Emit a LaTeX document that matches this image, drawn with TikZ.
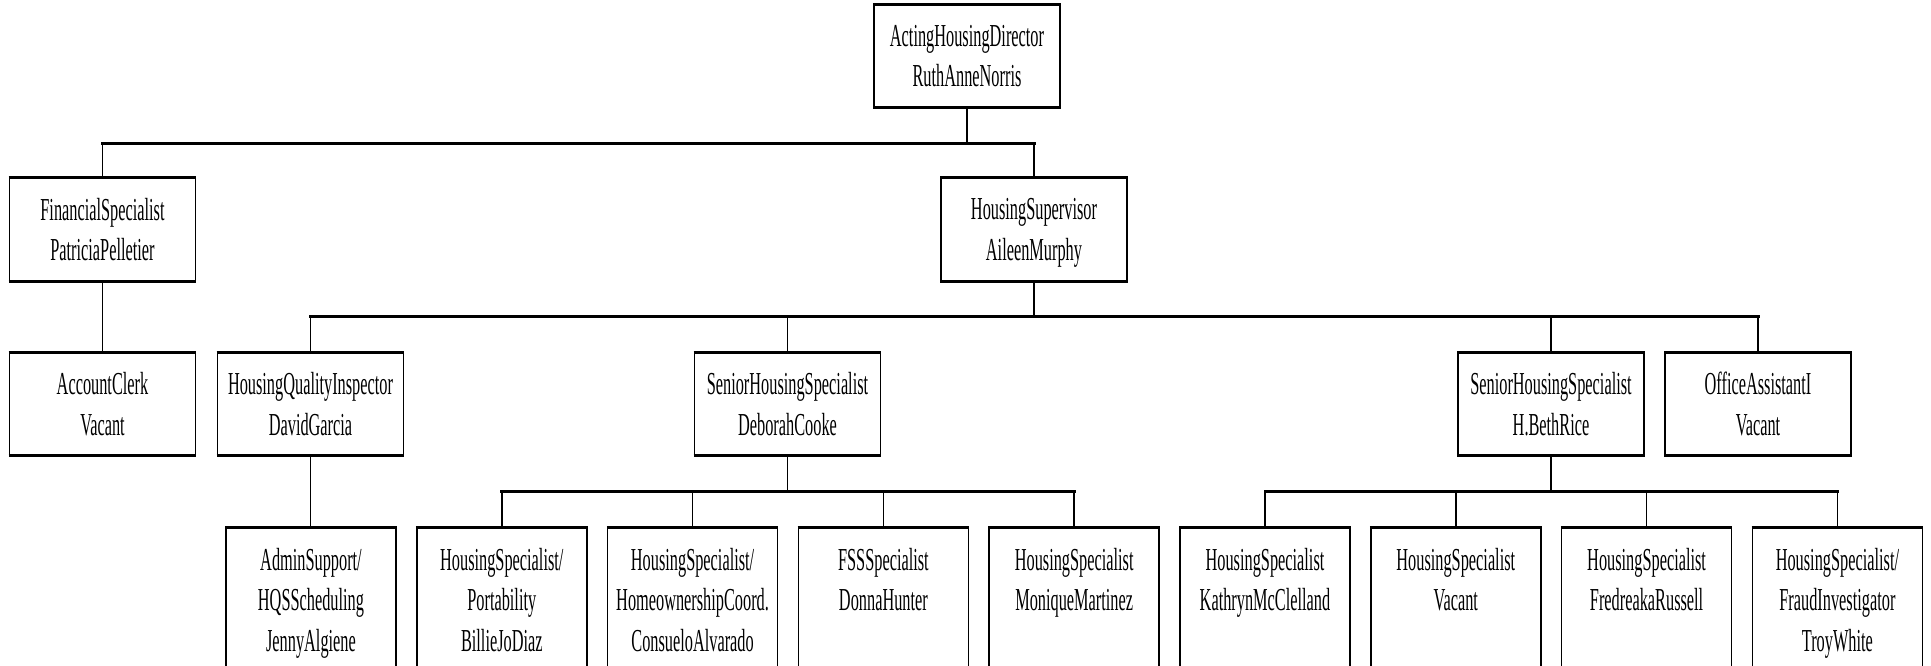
\documentclass[tikz,border=0pt]{standalone}
\usepackage{fontspec}
\setmainfont{Liberation Serif}[FakeStretch=0.51]
\begin{document}
\begin{tikzpicture}[x=1pt,y=-1pt,
  txt/.style={font=\fontsize{32}{40.5}\selectfont, align=center, inner sep=0pt},
  box/.style={draw, line width=1.7pt, minimum width=186pt, minimum height=102pt, inner sep=0pt, txt},
  lowbox/.style={draw, line width=1.7pt, minimum width=170pt, minimum height=145pt, inner sep=0pt, anchor=north},
  lowtxt/.style={txt, anchor=north, yshift=-21pt},
  edge/.style={line width=2.8pt},
  vline/.style={line width=1.6pt},
  hline/.style={line width=3pt, line cap=rect}]
\useasboundingbox (0,0) rectangle (1931,666);
\clip (0,0) rectangle (1931,666);
\fill[white] (0,0) rectangle (1931,666);

% level 1
\node[box] (top) at (967,56) {ActingHousingDirector\\RuthAnneNorris};
% level 2
\node[box] (fin) at (102.5,229.5) {FinancialSpecialist\\PatriciaPelletier};
\node[box] (hs) at (1034,229.5) {HousingSupervisor\\\raisebox{0pt}[\height][0pt]{AileenMurphy}};
% level 3
\node[box] (ac) at (102.5,404) {AccountClerk\\Vacant};
\node[box] (hqi) at (310.5,404) {HousingQualityInspector\\DavidGarcia};
\node[box] (dc) at (787.5,404) {SeniorHousingSpecialist\\DeborahCooke};
\node[box] (hbr) at (1551,404) {SeniorHousingSpecialist\\H.BethRice};
\node[box] (oa) at (1758,404) {OfficeAssistantI\\Vacant};
% level 4
\node[lowbox] (b0) at (311,527) {};
\node[lowbox] (b1) at (501.8,527) {};
\node[lowbox] (b2) at (692.6,527) {};
\node[lowbox] (b3) at (883.4,527) {};
\node[lowbox] (b4) at (1074.2,527) {};
\node[lowbox] (b5) at (1265,527) {};
\node[lowbox] (b6) at (1455.8,527) {};
\node[lowbox] (b7) at (1646.6,527) {};
\node[lowbox] (b8) at (1837.4,527) {};
\node[lowtxt] (t0) at (b0.north) {AdminSupport/\\HQSScheduling\\JennyAlgiene};
\node[lowtxt] (t1) at (b1.north) {HousingSpecialist/\\Portability\\BillieJoDiaz};
\node[lowtxt] (t2) at (b2.north) {HousingSpecialist/\\HomeownershipCoord.\\ConsueloAlvarado};
\node[lowtxt] (t3) at (b3.north) {FSSSpecialist\\DonnaHunter};
\node[lowtxt] (t4) at (b4.north) {HousingSpecialist\\MoniqueMartinez};
\node[lowtxt] (t5) at (b5.north) {HousingSpecialist\\KathrynMcClelland};
\node[lowtxt] (t6) at (b6.north) {HousingSpecialist\\Vacant};
\node[lowtxt] (t7) at (b7.north) {HousingSpecialist\\FredreakaRussell};
\node[lowtxt] (t8) at (b8.north) {HousingSpecialist/\\FraudInvestigator\\TroyWhite};

% thicker top and bottom edges
\foreach \n in {top,fin,hs,ac,hqi,dc,hbr,oa,b0,b1,b2,b3,b4,b5,b6,b7,b8}{
  \draw[edge] (\n.north west) -- (\n.north east);
  \draw[edge] (\n.south west) -- (\n.south east);
}

% buses
\coordinate (busA) at (967,143.5);
\coordinate (busB) at (1034,316.8);
\coordinate (busC) at (787.5,491.5);
\coordinate (busD) at (1551,491.5);

\draw[vline] (top.south) -- (busA);
\draw[hline] (fin.north |- busA) -- (hs.north |- busA);
\foreach \n in {fin,hs}{\draw[vline] (\n.north |- busA) -- (\n.north);}

\draw[vline] (fin.south) -- (ac.north);

\draw[vline] (hs.south) -- (busB);
\draw[hline] (hqi.north |- busB) -- (oa.north |- busB);
\foreach \n in {hqi,dc,hbr,oa}{\draw[vline] (\n.north |- busB) -- (\n.north);}

\draw[vline] (hqi.south) -- (hqi.south |- b0.north);

\draw[vline] (dc.south) -- (busC);
\draw[hline] (b1.north |- busC) -- (b4.north |- busC);
\foreach \n in {b1,b2,b3,b4}{\draw[vline] (\n.north |- busC) -- (\n.north);}

\draw[vline] (hbr.south) -- (busD);
\draw[hline] (b5.north |- busD) -- (b8.north |- busD);
\foreach \n in {b5,b6,b7,b8}{\draw[vline] (\n.north |- busD) -- (\n.north);}
\end{tikzpicture}
\end{document}
